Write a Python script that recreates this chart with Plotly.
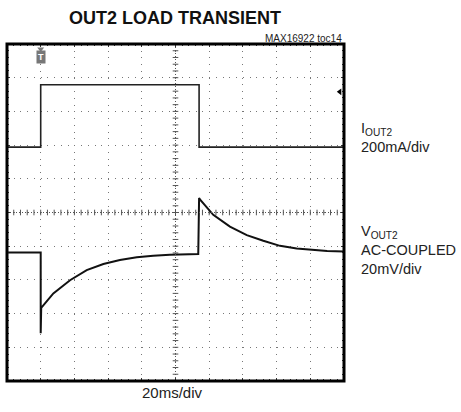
import plotly.graph_objects as go

# ---- data (time in ms, 20 ms/div; screen 0..200 ms) ----
t_current = [0, 20, 20, 114, 114, 200]
i_out2_mA = [0, 0, 370, 370, 0, 0]          # 200 mA/div

t_voltage = [0, 20, 20, 20.3, 27.5, 37.4, 47.3, 57.2, 67, 77, 86.8, 96.7, 113.5,
             114, 114.5, 122.4, 132.3, 142.3, 152.1, 162, 171.9, 181.8, 190, 200]
v_out2_mV = [0, 0, -47.8, -32.8, -24.2, -16.4, -10.4, -6.8, -4.4, -2.8, -1.8, -1.2, -0.8,
             32.4, 31.5, 22.4, 15.4, 10.4, 7.0, 4.0, 2.4, 1.6, 1.0, 0.6]  # 20 mV/div

# channel scale / position on the 10-division screen
I_SCALE, I_POS = 200.0, 6.94
V_SCALE, V_POS = 20.0, 3.81

W, H = 461, 412
L, R, T, B = 7, 117, 44, 31
PW = W - L - R
PH = H - T - B

def px_x(px):
    return (px - L) / PW

def px_y(py):
    return (H - B - py) / PH

fig = go.Figure()

# center-line graticule tick marks
h_ticks = [k * 4 for k in range(1, 50)]
v_ticks = [k * 0.2 for k in range(1, 50)]
fig.add_trace(go.Scatter(x=h_ticks, y=[5] * len(h_ticks), mode="markers",
                         marker=dict(symbol="line-ns", size=4, line=dict(width=1, color="#555")),
                         hoverinfo="skip", showlegend=False))
fig.add_trace(go.Scatter(x=[100] * len(v_ticks), y=v_ticks, mode="markers",
                         marker=dict(symbol="line-ew", size=4, line=dict(width=1, color="#555")),
                         hoverinfo="skip", showlegend=False))

fig.add_trace(go.Scatter(x=t_current, y=[v / I_SCALE + I_POS for v in i_out2_mA],
                         mode="lines", line=dict(color="#222", width=1.6),
                         hoverinfo="skip", showlegend=False))
fig.add_trace(go.Scatter(x=t_voltage, y=[v / V_SCALE + V_POS for v in v_out2_mV],
                         mode="lines", line=dict(color="#111", width=2.0),
                         hoverinfo="skip", showlegend=False))

# trigger level arrow at right edge
fig.add_trace(go.Scatter(x=[197.5], y=[8.58], mode="markers",
                         marker=dict(symbol="triangle-left", size=6, color="black"),
                         hoverinfo="skip", showlegend=False))
# trigger position marker
fig.add_trace(go.Scatter(x=[20], y=[9.85], mode="markers",
                         marker=dict(symbol="triangle-down", size=6, color="#777"),
                         hoverinfo="skip", showlegend=False))

# center graticule lines (denser dots)
fig.add_shape(type="line", x0=0, x1=200, y0=5, y1=5,
              line=dict(color="#555", width=1, dash="1px,2px"))
fig.add_shape(type="line", x0=100, x1=100, y0=0, y1=10,
              line=dict(color="#555", width=1, dash="1px,2px"))
# frame
fig.add_shape(type="rect", xref="paper", yref="paper", x0=0, x1=1, y0=0, y1=1,
              line=dict(color="black", width=3))

fig.update_xaxes(range=[0, 200], dtick=20, showticklabels=False, showgrid=True,
                 gridcolor="#777", gridwidth=1, griddash="1px,5.74px", zeroline=False,
                 ticks="inside", ticklen=3, tickcolor="#333", mirror="allticks",
                 minor=dict(dtick=4, ticks="inside", ticklen=2, tickcolor="#333", showgrid=False),
                 showline=False, fixedrange=True)
fig.update_yaxes(range=[0, 10], dtick=1, showticklabels=False, showgrid=True,
                 gridcolor="#777", gridwidth=1, griddash="1px,5.74px", zeroline=False,
                 ticks="inside", ticklen=3, tickcolor="#333", mirror="allticks",
                 minor=dict(dtick=0.2, ticks="inside", ticklen=2, tickcolor="#333", showgrid=False),
                 showline=False, fixedrange=True)

font_main = "Liberation Sans, Arial, sans-serif"
ann = [
    dict(text="<b>OUT2 LOAD TRANSIENT</b>", x=px_x(175), y=px_y(18),
         font=dict(family=font_main, size=18, color="#111"), xanchor="center", yanchor="middle"),
    dict(text="MAX16922 toc14", x=1.0, y=px_y(38), xanchor="right", yanchor="middle",
         font=dict(family=font_main, size=10, color="#222")),
    dict(text="I<sub>OUT2</sub><br>200mA/div", x=px_x(359), y=px_y(137), xanchor="left",
         yanchor="middle", align="left", font=dict(family=font_main, size=14.5, color="#222")),
    dict(text="V<sub>OUT2</sub><br>AC-COUPLED<br>20mV/div", x=px_x(359), y=px_y(250),
         xanchor="left", yanchor="middle", align="left",
         font=dict(family=font_main, size=14.5, color="#222")),
    dict(text="20ms/div", x=px_x(172), y=px_y(393), xanchor="center", yanchor="middle",
         font=dict(family=font_main, size=15, color="#222")),
    dict(text="<b>T</b>", x=20, y=9.62, xref="x", yref="y", xanchor="center", yanchor="middle",
         bgcolor="#777", borderpad=1, font=dict(family=font_main, size=9, color="white")),
]
for a in ann:
    a.setdefault("xref", "paper")
    a.setdefault("yref", "paper")
    a["showarrow"] = False
    fig.add_annotation(**a)

fig.update_layout(width=W, height=H, margin=dict(l=L, r=R, t=T, b=B),
                  paper_bgcolor="white", plot_bgcolor="white", showlegend=False)

fig.write_html("out.html", config={"displayModeBar": False},
               post_script="document.body.style.margin='0px';document.body.style.padding='0px';")
